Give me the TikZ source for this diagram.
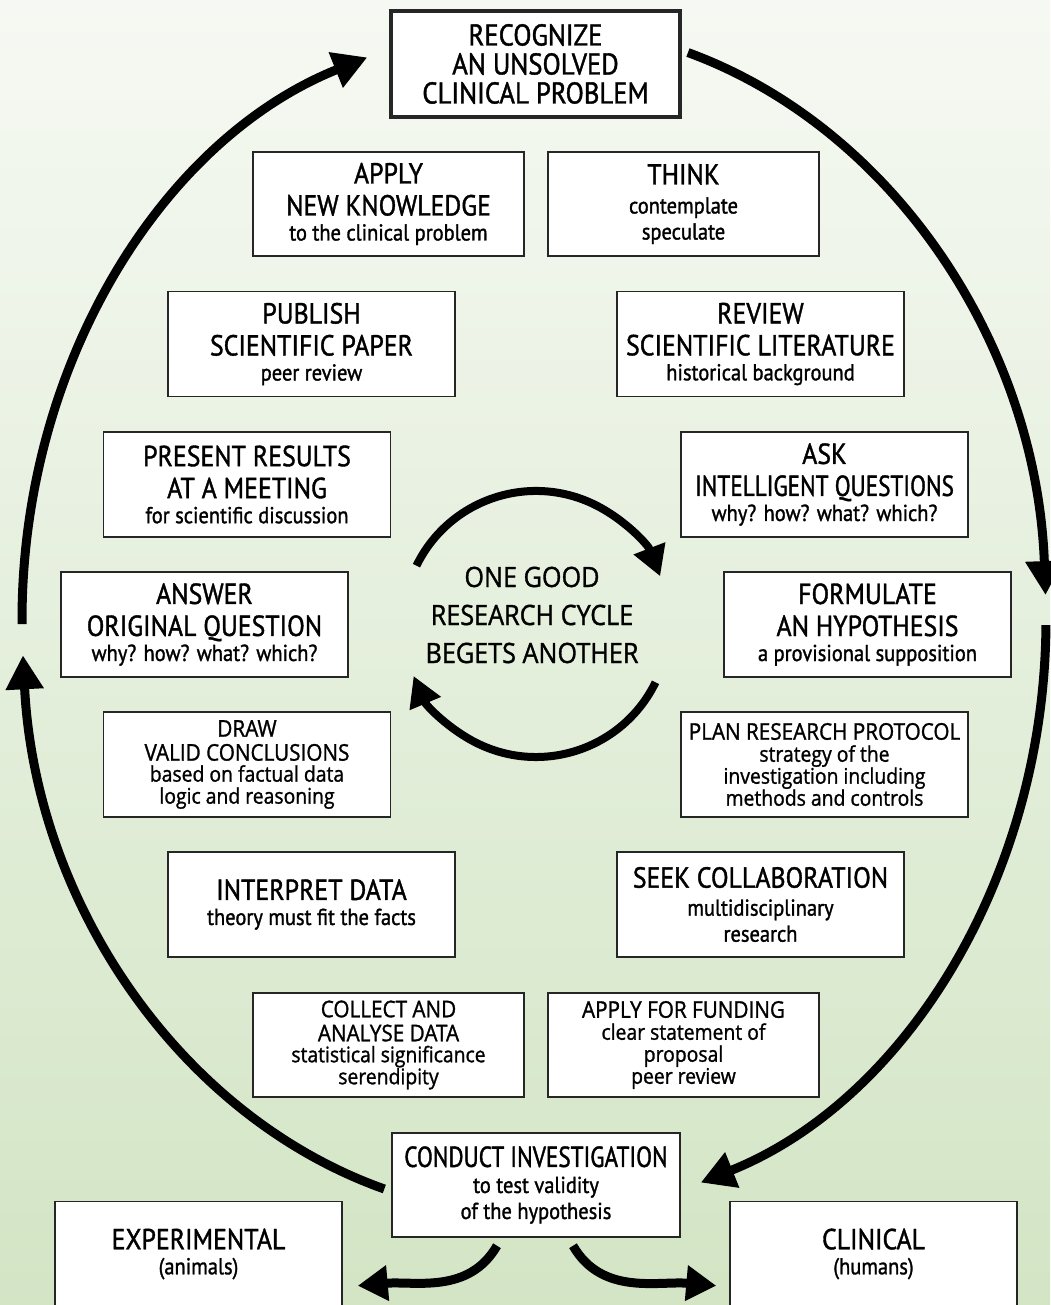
\documentclass[tikz,border=0pt]{standalone}
\usepackage{fontspec}
\setmainfont{PT Sans}[FakeStretch=0.89, FakeBold=1.3]
\newfontfamily\narrowfont{PT Sans}[FakeStretch=0.80, FakeBold=1.3]
\newfontfamily\widefont{Open Sans}[FakeStretch=0.9, FakeBold=1.2]
\usetikzlibrary{arrows.meta}

\definecolor{bgtop}{RGB}{246,249,243}
\definecolor{bgbottom}{RGB}{211,229,197}

\newcommand{\boxnote}[1]{{\fontsize{23}{26}\selectfont #1}}
\newcommand{\widenote}[1]{{\fontsize{21.5}{23}\selectfont #1}}

\tikzset{
  stepbox/.style={draw=black!85, line width=1.5pt, fill=white, align=center,
    inner sep=0pt, minimum width=287pt, minimum height=105pt,
    font=\fontsize{29}{32}\selectfont},
  pairbox/.style={stepbox, minimum width=271pt, minimum height=104pt},
  widebox/.style={font=\widefont\fontsize{23}{24}\selectfont},
  cyclearrow/.style={line width=9pt, -{Triangle[length=34pt,width=36pt]}},
  innerarrow/.style={line width=8pt, -{Triangle[length=30pt,width=32pt]}},
  smallarrow/.style={line width=9pt, -{Triangle[length=30pt,width=34pt]}}
}

\begin{document}
\begin{tikzpicture}[x=1pt,y=1pt]
    \useasboundingbox (0,0) rectangle (1050,1305);
    % Background
    \shade[top color=bgtop, bottom color=bgbottom] (0,0) rectangle (1050,1305);
    % Top box
    \node[stepbox, line width=4pt, minimum width=289pt, minimum height=106pt,
      font=\fontsize{30}{29}\selectfont] (recognize) at (535.5,1241)
      {RECOGNIZE\\AN UNSOLVED\\CLINICAL PROBLEM};
    % Left column
    \node[pairbox] (knowledge) at (388.5,1101)
      {APPLY\\NEW KNOWLEDGE\\[-7pt]\boxnote{to the clinical problem}};
    \node[stepbox] (publish) at (311.5,961)
      {PUBLISH\\SCIENTIFIC PAPER\\[-7pt]\boxnote{peer review}};
    \node[stepbox] (present) at (247,820.5)
      {PRESENT RESULTS\\AT A MEETING\\[-7pt]\boxnote{for scientific discussion}};
    \node[stepbox] (answer) at (204.5,680.5)
      {ANSWER\\ORIGINAL QUESTION\\[-7pt]\boxnote{why? how? what? which?}};
    \node[stepbox, widebox] (conclude) at (247,540.5)
      {DRAW\\VALID CONCLUSIONS\\[-3pt]\widenote{based on factual data}\\[-2pt]\widenote{logic and reasoning}};
    \node[stepbox] (interpret) at (311.5,400.5)
      {INTERPRET DATA\\[-7pt]\boxnote{theory must fit the facts}};
    \node[pairbox, widebox] (collect) at (388.5,260)
      {COLLECT AND\\ANALYSE DATA\\[-3pt]\widenote{statistical significance}\\[-2pt]\widenote{serendipity}};
    % Right column
    \node[pairbox] (think) at (683.5,1101)
      {THINK\\[-3pt]\boxnote{contemplate}\\[-6pt]\boxnote{speculate}};
    \node[stepbox] (review) at (760.5,961)
      {REVIEW\\SCIENTIFIC LITERATURE\\[-7pt]\boxnote{historical background}};
    \node[stepbox] (ask) at (824.5,820.5)
      {ASK\\{\narrowfont INTELLIGENT QUESTIONS}\\[-7pt]\boxnote{why? how? what? which?}};
    \node[stepbox] (formulate) at (867.5,680.5)
      {FORMULATE\\AN HYPOTHESIS\\[-7pt]\boxnote{a provisional supposition}};
    \node[stepbox, widebox] (plan) at (824.5,540.5)
      {PLAN RESEARCH PROTOCOL\\[-2pt]\widenote{strategy of the}\\[-2pt]\widenote{investigation including}\\[-2pt]\widenote{methods and controls}};
    \node[stepbox] (seek) at (760.5,400.5)
      {SEEK COLLABORATION\\[-4pt]\boxnote{multidisciplinary}\\[-6pt]\boxnote{research}};
    \node[pairbox, widebox] (funding) at (683.5,260)
      {APPLY FOR FUNDING\\[-2pt]\widenote{clear statement of}\\[-2pt]\widenote{proposal}\\[-2pt]\widenote{peer review}};
    % Bottom row
    \node[stepbox, minimum width=288pt, minimum height=104pt] (conduct) at (536,120)
      {{\narrowfont CONDUCT INVESTIGATION}\\[-6pt]\boxnote{to test validity}\\[-6pt]\boxnote{of the hypothesis}};
    \node[stepbox] (experimental) at (198.5,51)
      {EXPERIMENTAL\\[-7pt]\boxnote{(animals)}};
    \node[stepbox] (clinical) at (873.5,51)
      {CLINICAL\\[-7pt]\boxnote{(humans)}};
    % Centre text
    \node[align=center, font=\widefont\fontsize{28}{38}\selectfont] (cycle) at (532,690)
      {ONE GOOD\\RESEARCH CYCLE\\BEGETS ANOTHER};
    % Outer cycle
    \coordinate (hub) at (534,685);
    \draw[cyclearrow] (hub) ++(253:512pt and 595pt)
      arc[start angle=253, end angle=183.4, x radius=512pt, y radius=595pt];
    \draw[cyclearrow] (hub) ++(180.4:512pt and 595pt)
      arc[start angle=180.4, end angle=109, x radius=512pt, y radius=595pt];
    \draw[cyclearrow] (hub) ++(72.5:512pt and 595pt)
      arc[start angle=72.5, end angle=2.4, x radius=512pt, y radius=595pt];
    \draw[cyclearrow] (hub) ++(-0.5:512pt and 595pt)
      arc[start angle=-0.5, end angle=-71, x radius=512pt, y radius=595pt];
    % Inner cycle
    \coordinate (core) at (536,681);
    \draw[innerarrow] (core) ++(154:133pt) arc[start angle=154, end angle=21, radius=133pt];
    \draw[innerarrow] (core) ++(-26:133pt) arc[start angle=-26, end angle=-157, radius=133pt];
    % Branches
    \draw[smallarrow] ([xshift=-39pt,yshift=-8pt]conduct.south)
      to[out=-120, in=5] ([xshift=15pt,yshift=-85pt]experimental.north east);
    \draw[smallarrow] ([xshift=37pt,yshift=-8pt]conduct.south)
      to[out=-60, in=175] ([xshift=-13pt,yshift=-85pt]clinical.north west);
\end{tikzpicture}
\end{document}
